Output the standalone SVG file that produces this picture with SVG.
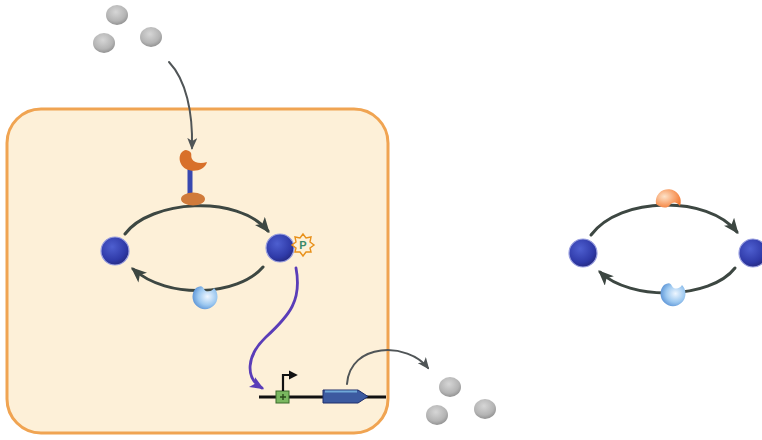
<svg xmlns="http://www.w3.org/2000/svg" width="762" height="440" viewBox="0 0 762 440">
  <style>
    .cell { fill: #fdf0d8; stroke: #f0a452; stroke-width: 3; }
    .cycle { fill: none; stroke: #3d4742; stroke-width: 3; stroke-linecap: round; }
    .flow { fill: none; stroke: #505557; stroke-width: 2; stroke-linecap: round; }
    .signal { fill: none; stroke: #5a3db8; stroke-width: 2.8; stroke-linecap: round; }
    .protein { fill: url(#blueSphere); stroke: #9aa0e0; stroke-width: 1.2; }
    .disc { fill: url(#greyDisc); }
    .dna { stroke: #111; stroke-width: 3; }
  </style>
  <defs>
    <radialGradient id="blueSphere" cx="0.4" cy="0.35" r="0.7">
      <stop offset="0" stop-color="#4e5fd0"/>
      <stop offset="0.7" stop-color="#2f3aa8"/>
      <stop offset="1" stop-color="#24287e"/>
    </radialGradient>
    <radialGradient id="greyDisc" cx="0.45" cy="0.35" r="0.7">
      <stop offset="0" stop-color="#d6d6d6"/>
      <stop offset="0.65" stop-color="#b4b4b4"/>
      <stop offset="1" stop-color="#8a8a8a"/>
    </radialGradient>
    <radialGradient id="blueCup" cx="0.6" cy="0.45" r="0.75">
      <stop offset="0" stop-color="#eef6ff"/>
      <stop offset="0.5" stop-color="#9cc8f0"/>
      <stop offset="1" stop-color="#3a78c8"/>
    </radialGradient>
    <radialGradient id="orangeCup" cx="0.35" cy="0.4" r="0.8">
      <stop offset="0" stop-color="#fde2c8"/>
      <stop offset="0.55" stop-color="#f8a068"/>
      <stop offset="1" stop-color="#f06a20"/>
    </radialGradient>
    <marker id="headDark" viewBox="0 0 12 10" refX="10" refY="5" markerWidth="16" markerHeight="13" markerUnits="userSpaceOnUse" orient="auto">
      <path d="M0,0 L12,5 L0,10 L3,5 z" fill="#3d4742"/>
    </marker>
    <marker id="headGrey" viewBox="0 0 12 10" refX="10" refY="5" markerWidth="12" markerHeight="10" markerUnits="userSpaceOnUse" orient="auto">
      <path d="M0,0 L12,5 L0,10 L3,5 z" fill="#505557"/>
    </marker>
    <marker id="headPurple" viewBox="0 0 12 10" refX="10" refY="5" markerWidth="14" markerHeight="12" markerUnits="userSpaceOnUse" orient="auto">
      <path d="M0,0 L12,5 L0,10 L3,5 z" fill="#5a3db8"/>
    </marker>
    <marker id="headBlack" viewBox="0 0 12 10" refX="8" refY="5" markerWidth="11" markerHeight="11" markerUnits="userSpaceOnUse" orient="auto">
      <path d="M0,0 L10,5 L0,10 z" fill="#111"/>
    </marker>
  </defs>

  <!-- cell body -->
  <rect id="cell" class="cell" x="7" y="109" width="381" height="324" rx="34" ry="34"/>

  <!-- connectors -->
  <g id="connectors">
    <path class="flow" d="M169,62 C186,80 193,112 192,148" marker-end="url(#headGrey)"/>
    <path class="cycle" d="M125,234 C150,200 238,194 268,231" marker-end="url(#headDark)"/>
    <path class="cycle" d="M263,267 C238,296 168,300 133,269" marker-end="url(#headDark)"/>
    <path class="signal" d="M296,268 C302,300 290,315 266,337 C246,356 245,378 262,388" marker-end="url(#headPurple)"/>
    <path class="flow" d="M347,384 C350,342 408,342 428,368" marker-end="url(#headGrey)"/>
    <path class="cycle" d="M591,235 C620,196 708,195 737,232" marker-end="url(#headDark)"/>
    <path class="cycle" d="M735,268 C710,300 630,301 600,272" marker-end="url(#headDark)"/>
  </g>

  <!-- ligand molecules outside the cell -->
  <g id="ligands-in">
    <ellipse class="disc" cx="117" cy="15" rx="11" ry="10"/>
    <ellipse class="disc" cx="104" cy="43" rx="11" ry="10"/>
    <ellipse class="disc" cx="151" cy="37" rx="11" ry="10"/>
  </g>

  <!-- membrane receptor -->
  <g id="receptor">
    <rect x="187.5" y="168" width="5" height="28" fill="#3848b0"/>
    <ellipse cx="193" cy="199" rx="12" ry="6.5" fill="#d07a3a"/>
    <path d="M186,150 C178,151 177,164 186,169 C194,173 205,170 207,162 C201,164 194,163 192,159 C190,155 194,152 186,150 z" fill="#d8702a"/>
  </g>

  <!-- inactive substrate -->
  <g id="substrate-left">
    <circle class="protein" cx="115" cy="251" r="14"/>
  </g>

  <!-- phosphorylated substrate -->
  <g id="substrate-right">
    <circle class="protein" cx="280" cy="248" r="14"/>
    <polygon points="303,234 306,238 311,237 310,242 314,245 310,248 311,252 306,252 303,256 300,252 295,252 296,248 292,245 296,242 295,237 300,238" fill="#fdf0d6" stroke="#e8901a" stroke-width="1.4"/>
    <text x="303" y="249" font-family="Liberation Sans, Arial, sans-serif" font-size="11" font-weight="bold" fill="#3a8a6a" text-anchor="middle">P</text>
  </g>

  <!-- phosphatase -->
  <g id="phosphatase-left">
    <path d="M196,288 A12.5,12.5 0 1 0 214,288 C212,292 206,293 204,289 C202,285 200,286 196,288 z" fill="url(#blueCup)"/>
  </g>

  <!-- target gene -->
  <g id="gene">
    <line class="dna" x1="259" y1="397" x2="386" y2="397"/>
    <rect x="276" y="391" width="13" height="12" fill="#7ab860" stroke="#3a6a2a" stroke-width="1"/>
    <path d="M280,397 h6 M283,394 v6" stroke="#2a4a1a" stroke-width="1.4"/>
    <path d="M283,391 V375 H296" fill="none" stroke="#111" stroke-width="2.2" marker-end="url(#headBlack)"/>
    <path d="M323,390 H358 L368,396.5 L358,403 H323 z" fill="#3c5aa0" stroke="#1e2e6a" stroke-width="1"/>
    <path d="M325,391.5 H357" stroke="#6fa8d8" stroke-width="2"/>
  </g>

  <!-- secreted molecules -->
  <g id="ligands-out">
    <ellipse class="disc" cx="450" cy="387" rx="11" ry="10"/>
    <ellipse class="disc" cx="437" cy="415" rx="11" ry="10"/>
    <ellipse class="disc" cx="485" cy="409" rx="11" ry="10"/>
  </g>

  <!-- second cycle -->
  <g id="substrate-b-left">
    <circle class="protein" cx="583" cy="253" r="14"/>
  </g>
  <g id="substrate-b-right">
    <circle class="protein" cx="753" cy="253" r="14"/>
  </g>
  <g id="kinase-b">
    <path d="M656,204 A12.5,12.5 0 1 1 680,206 C677,202 673,201 670,205 C667,209 661,208 656,204 z" fill="url(#orangeCup)"/>
  </g>
  <g id="phosphatase-b">
    <path d="M664,285 A12.5,12.5 0 1 0 682,285 C680,289 674,290 672,286 C670,282 668,283 664,285 z" fill="url(#blueCup)"/>
  </g>
</svg>
